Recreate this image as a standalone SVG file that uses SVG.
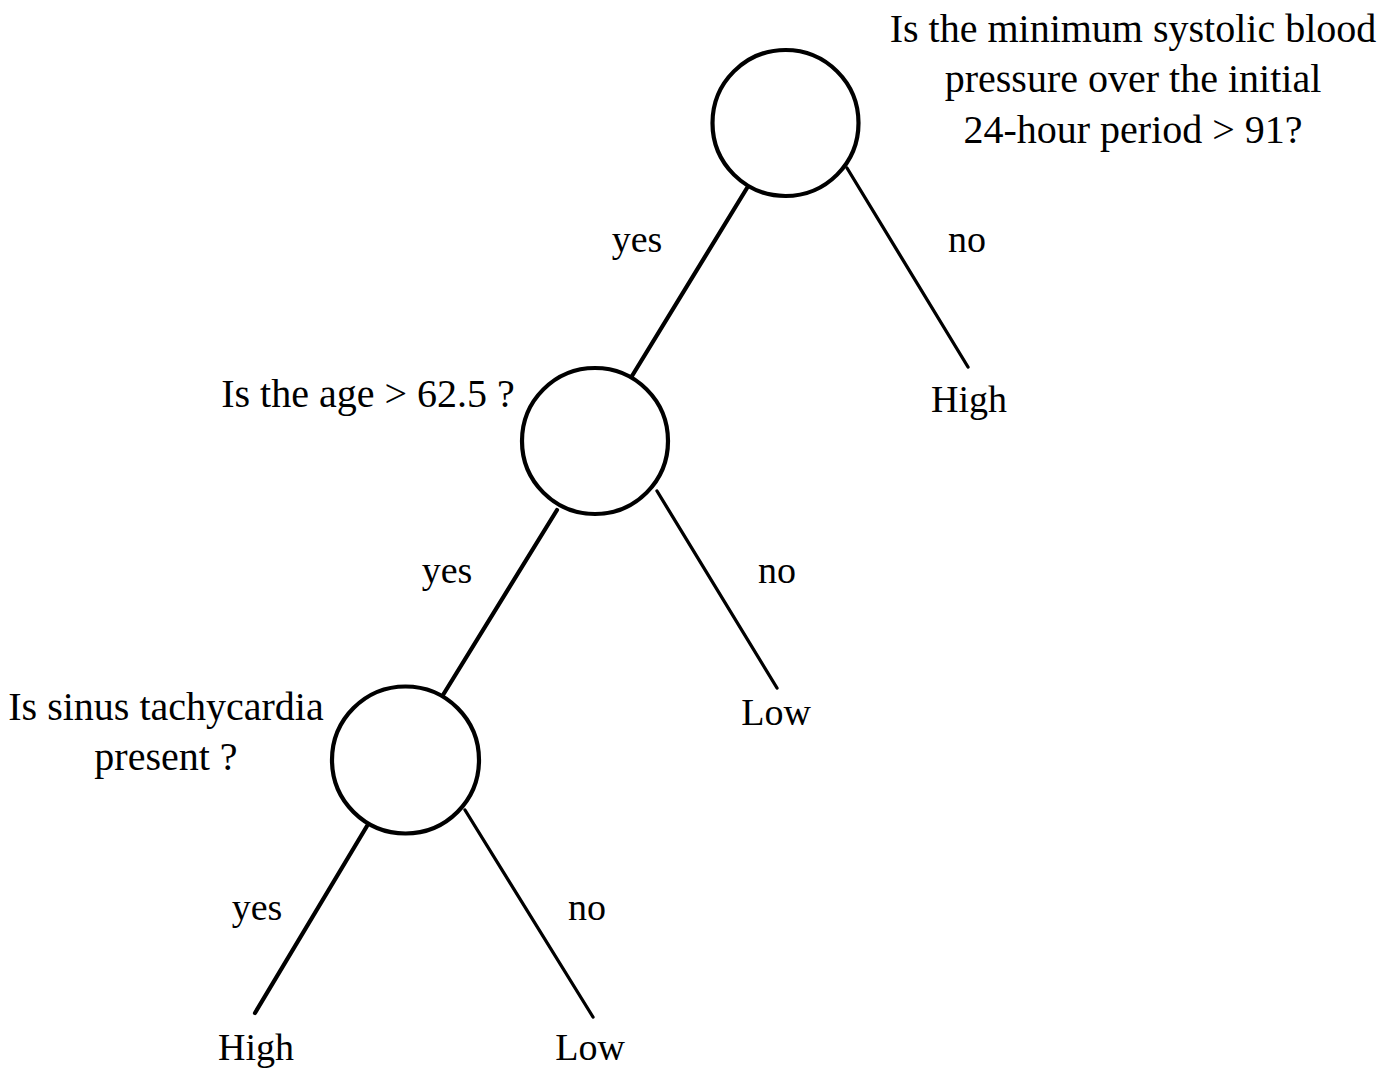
<svg xmlns="http://www.w3.org/2000/svg" width="1395" height="1070" viewBox="0 0 1395 1070">
  <style>
    .node circle { fill: #ffffff; stroke: #000000; stroke-width: 4.2; }
    .edge { stroke: #000000; stroke-linecap: round; fill: none; }
    .yes { stroke-width: 4.2; }
    .no { stroke-width: 3.3; }
    .q { font-family: "Liberation Serif", "Times New Roman", serif; font-size: 40px; fill: #000000; text-anchor: middle; }
    .lbl { font-family: "Liberation Serif", "Times New Roman", serif; font-size: 38px; fill: #000000; text-anchor: middle; }
  </style>
  <rect width="1395" height="1070" fill="#ffffff"/>

  <!-- branches between decision nodes and outcomes -->
  <g id="connectors">
    <line class="edge yes" x1="747" y1="188" x2="632" y2="376"/>
    <line class="edge no" x1="847" y1="168" x2="968" y2="367"/>
    <line class="edge yes" x1="557" y1="510" x2="443" y2="695"/>
    <line class="edge no" x1="657" y1="491" x2="777" y2="688"/>
    <line class="edge yes" x1="367" y1="826" x2="255" y2="1013"/>
    <line class="edge no" x1="465" y1="810" x2="593" y2="1017"/>
    <text class="lbl" x="637" y="252">yes</text>
    <text class="lbl" x="967" y="252">no</text>
    <text class="lbl" x="447" y="583">yes</text>
    <text class="lbl" x="777" y="583">no</text>
    <text class="lbl" x="257" y="920">yes</text>
    <text class="lbl" x="587" y="920">no</text>
  </g>

  <!-- root decision: blood pressure -->
  <g id="node-bp" class="node">
    <circle cx="785.5" cy="123" r="73"/>
    <text class="q" x="1133" y="42">Is the minimum systolic blood</text>
    <text class="q" x="1133" y="92">pressure over the initial</text>
    <text class="q" x="1133" y="143">24-hour period &gt; 91?</text>
  </g>

  <!-- second decision: age -->
  <g id="node-age" class="node">
    <circle cx="595" cy="441" r="73"/>
    <text class="q" x="368" y="407">Is the age &gt; 62.5 ?</text>
  </g>

  <!-- third decision: sinus tachycardia -->
  <g id="node-sinus" class="node">
    <circle cx="405.5" cy="760" r="73.5"/>
    <text class="q" x="166" y="720">Is sinus tachycardia</text>
    <text class="q" x="166" y="770">present ?</text>
  </g>

  <!-- outcomes -->
  <g id="leaf-high-1"><text class="lbl" x="969" y="412">High</text></g>
  <g id="leaf-low-1"><text class="lbl" x="776" y="725">Low</text></g>
  <g id="leaf-high-2"><text class="lbl" x="256" y="1060">High</text></g>
  <g id="leaf-low-2"><text class="lbl" x="590" y="1060">Low</text></g>
</svg>
